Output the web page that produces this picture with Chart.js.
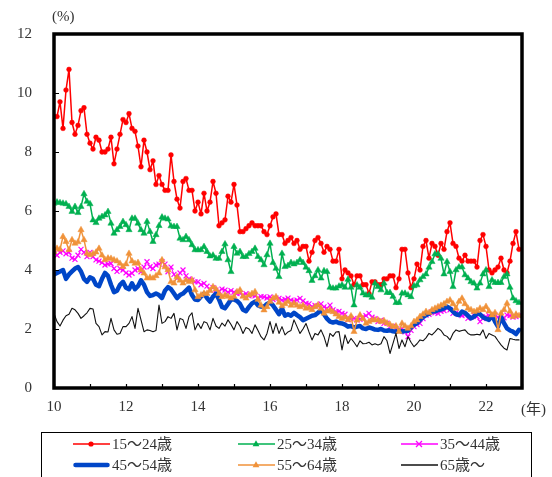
<!DOCTYPE html>
<html>
<head>
<meta charset="utf-8">
<script src="https://cdn.jsdelivr.net/npm/chart.js@4/dist/chart.umd.min.js"></script>
<style>
  html, body { margin: 0; padding: 0; background: #fff; }
  #wrap { position: relative; width: 552px; height: 477px; overflow: hidden; }
  .txt { position: absolute; font-family: "Liberation Serif", "Noto Sans CJK JP", serif; font-size: 15px; color: #333; white-space: nowrap; line-height: 16px; }
  #legend { position: absolute; left: 41px; top: 432px; width: 491px; height: 46px; border: 1.5px solid #000; box-sizing: border-box; }
  .item { position: absolute; width: 140px; height: 16px; }
  .item svg { position: absolute; left: 0; top: 0; }
  .item span { position: absolute; left: 39px; top: 0; display: block; height: 16px; line-height: 16px; font-family: "Liberation Serif", "Noto Sans CJK JP", serif; font-size: 15px; color: #333; white-space: nowrap; }
</style>
</head>
<body>
<div id="wrap">
  <canvas id="c" width="552" height="477"></canvas>
  <div class="txt" style="left:52px; top:8px;">(%)</div>
  <div class="txt" style="left:521px; top:401px;">(年)</div>
  <div id="legend"></div>
</div>
<script>
// ---- data (monthly, Jan 2010 - Dec 2022) ----
const seriesNames = ['15～24歳', '25～34歳', '35～44歳', '45～54歳', '55～64歳', '65歳～'];
const yearTickLabels = ['10', '12', '14', '16', '18', '20', '22'];

const age15_24 = [
  9.2,9.2,9.7,8.8,10.1,10.8,9.0,8.6,8.9,9.4,9.5,8.6,
  8.3,8.1,8.5,8.4,8.0,8.0,8.1,8.5,7.6,8.1,8.6,9.1,
  9.0,9.3,8.8,8.7,8.2,7.5,8.4,8.0,7.4,7.7,6.9,7.2,
  6.9,6.7,6.7,7.9,7.0,6.4,6.1,7.0,7.1,6.7,6.7,6.0,
  6.3,5.9,6.6,6.0,6.3,7.0,6.6,5.5,5.6,5.7,6.5,6.3,
  6.9,6.2,5.3,5.3,5.4,5.5,5.6,5.5,5.5,5.5,5.3,5.2,
  5.5,5.8,5.9,5.2,5.2,4.9,5.0,5.1,4.9,5.0,4.7,4.8,
  4.8,4.3,4.6,5.0,5.1,4.9,4.6,4.8,4.7,4.3,4.3,4.7,
  3.7,4.0,3.9,3.8,3.5,3.8,3.8,3.5,3.5,3.2,3.6,3.6,
  3.5,3.5,3.7,3.7,3.8,3.8,3.4,3.7,4.7,4.7,3.9,3.4,
  3.7,4.2,4.0,4.8,5.0,4.4,4.9,4.8,4.5,4.9,4.7,5.3,
  5.6,4.9,4.8,4.4,4.3,4.5,4.3,4.3,4.3,4.1,5.0,5.2,
  4.8,4.0,3.9,4.0,4.1,4.4,4.0,3.9,4.3,4.9,5.3,4.7
];
const age25_34 = [
  6.26,6.3,6.28,6.26,6.24,6.15,5.98,6.15,5.94,6.15,6.58,6.32,
  6.24,5.69,5.6,5.75,5.81,5.86,5.98,5.58,5.24,5.36,5.47,5.64,
  5.53,5.36,5.75,5.75,5.58,5.36,5.24,5.64,5.3,4.96,5.19,5.5,
  5.79,5.75,5.72,5.49,5.47,5.47,5.07,5.02,5.13,5.02,4.85,4.68,
  4.68,4.68,4.79,4.62,4.47,4.5,4.39,4.39,4.62,4.88,4.34,3.94,
  4.79,4.56,4.62,4.45,4.45,4.55,4.62,4.73,4.45,4.34,4.17,4.51,
  4.9,4.25,4.05,3.77,4.56,4.11,4.15,4.25,4.2,4.25,4.34,4.25,
  4.09,3.97,3.64,3.8,4.0,3.72,3.97,3.94,3.41,3.38,3.38,3.45,
  3.49,3.41,3.68,3.41,2.81,3.49,3.41,3.21,3.15,3.15,3.07,3.55,
  3.43,3.32,3.55,3.23,3.23,3.1,2.89,2.89,3.21,3.21,3.15,3.09,
  3.46,3.49,3.66,3.77,3.86,4.09,4.28,4.54,4.54,4.39,3.86,4.28,
  3.94,3.43,4.0,4.1,4.1,3.83,3.72,3.6,3.55,3.38,3.55,3.86,
  4.0,3.43,3.66,3.57,3.57,3.57,3.77,3.86,3.41,3.04,2.95,2.89
];
const age35_44 = [
  4.7,4.5,4.6,4.65,4.55,4.6,4.4,4.36,4.5,4.7,4.6,4.45,
  4.6,4.45,4.34,4.3,4.25,4.17,4.2,4.22,4.05,3.95,4.05,4.0,
  3.9,3.83,3.89,4.0,4.05,3.94,4.1,4.28,4.11,4.05,4.17,4.2,
  4.28,4.2,3.94,4.1,3.85,3.72,3.9,4.0,3.8,3.7,3.66,3.6,
  3.6,3.5,3.55,3.45,3.32,3.4,3.32,3.28,3.35,3.32,3.25,3.3,
  3.25,3.2,3.21,3.15,3.2,3.12,3.15,3.12,3.05,3.1,3.09,3.05,
  3.09,3.0,3.05,3.04,2.98,3.0,3.05,2.98,2.95,2.98,3.04,2.95,
  2.87,2.85,2.76,2.8,2.78,2.85,2.75,2.7,2.81,2.65,2.59,2.6,
  2.53,2.5,2.31,2.35,2.36,2.3,2.33,2.4,2.45,2.53,2.4,2.35,
  2.25,2.3,2.19,2.2,2.08,2.1,2.0,1.97,2.0,1.9,1.74,1.95,
  2.08,2.15,2.19,2.35,2.47,2.5,2.59,2.55,2.53,2.6,2.62,2.7,
  2.65,2.53,2.55,2.5,2.45,2.48,2.36,2.4,2.47,2.42,2.25,2.35,
  2.42,2.45,2.4,2.47,2.4,2.31,2.38,2.47,2.45,2.4,2.42,2.45
];
const age45_54 = [
  3.85,3.9,3.95,4.0,3.7,3.85,3.95,4.05,4.1,3.95,3.7,3.6,
  3.75,3.7,3.5,3.45,3.7,3.9,3.8,3.5,3.25,3.3,3.5,3.6,
  3.4,3.35,3.55,3.35,3.45,3.65,3.5,3.25,3.12,3.15,3.2,3.15,
  3.05,3.3,3.42,3.35,3.2,3.05,3.15,3.2,3.3,3.4,3.15,3.0,
  2.98,3.1,3.2,3.05,2.93,3.1,3.2,3.0,2.75,2.7,2.85,3.0,
  3.0,2.95,2.85,2.65,2.6,2.75,2.87,2.93,2.8,2.76,2.75,2.85,
  2.9,2.8,2.65,2.5,2.7,2.45,2.5,2.45,2.55,2.47,2.4,2.3,
  2.35,2.4,2.45,2.47,2.55,2.64,2.5,2.35,2.25,2.22,2.25,2.2,
  2.19,2.15,2.08,2.1,2.05,2.08,2.1,2.02,2.0,2.05,2.02,1.98,
  1.97,2.0,1.95,1.94,1.96,1.92,1.91,1.95,1.91,1.93,1.94,2.05,
  2.14,2.2,2.31,2.4,2.47,2.52,2.59,2.6,2.64,2.66,2.7,2.76,
  2.7,2.59,2.5,2.47,2.59,2.55,2.45,2.36,2.42,2.53,2.5,2.4,
  2.35,2.31,2.47,2.25,2.08,2.42,2.2,2.02,1.95,1.91,1.83,1.97
];
const age55_64 = [
  4.62,4.73,4.7,5.13,4.96,4.68,5.02,4.9,4.95,5.36,5.02,4.56,
  4.51,4.55,4.6,4.73,4.5,4.34,4.4,4.39,4.34,4.3,4.22,4.11,
  4.2,4.56,4.3,4.22,4.25,4.0,3.89,3.72,3.75,3.72,3.8,3.89,
  4.34,4.1,4.0,3.6,3.55,3.77,3.65,3.55,3.66,3.6,3.66,3.32,
  3.09,3.15,3.21,3.2,3.3,3.43,3.35,3.2,3.09,3.15,3.1,3.04,
  3.1,3.26,3.32,3.1,3.04,3.15,3.2,3.26,3.0,2.8,2.64,2.75,
  2.93,3.04,3.09,2.9,2.78,2.85,2.93,2.8,2.87,2.8,2.75,2.8,
  2.7,2.72,2.65,2.75,2.81,2.7,2.53,2.6,2.64,2.58,2.5,2.42,
  2.35,2.4,2.31,2.44,1.91,2.3,2.47,2.35,2.19,2.25,2.3,2.31,
  2.3,2.25,2.28,2.2,2.15,2.08,2.1,1.91,2.19,2.1,2.02,2.1,
  2.25,2.3,2.42,2.5,2.59,2.55,2.65,2.7,2.75,2.8,2.85,2.93,
  2.98,2.85,2.7,2.93,3.04,2.85,2.7,2.65,2.59,2.62,2.7,2.65,
  2.76,2.6,2.47,2.55,1.97,2.53,2.65,2.87,2.6,2.42,2.5,2.45
];
const age65plus = [
  2.53,2.25,2.1,2.3,2.45,2.5,2.7,2.65,2.53,2.36,2.45,2.55,
  2.7,2.68,2.19,2.08,1.8,1.91,1.9,2.36,1.97,1.82,1.85,2.08,
  2.08,2.19,2.42,2.02,2.7,2.31,1.91,1.97,1.95,1.91,1.95,2.81,
  2.19,2.25,2.42,2.36,2.53,1.97,2.36,2.31,2.02,2.42,2.55,1.97,
  2.19,2.02,2.25,2.2,1.97,2.36,2.1,2.02,2.2,2.1,2.31,2.15,
  1.97,2.25,2.1,1.85,2.05,2.0,1.85,2.14,1.95,1.74,1.63,1.85,
  2.25,1.85,2.19,1.85,2.08,1.8,1.9,1.95,2.31,2.08,1.85,2.0,
  2.19,1.9,1.63,1.85,1.8,1.97,1.74,1.4,1.85,1.75,1.9,1.91,
  1.29,1.8,1.51,1.68,1.55,1.4,1.6,1.5,1.51,1.55,1.46,1.5,
  1.46,1.5,1.74,1.6,1.17,1.51,1.85,1.34,1.63,1.4,1.74,1.55,
  1.4,1.5,1.63,1.6,1.7,1.85,1.8,1.9,2.02,1.95,1.8,1.75,
  1.63,1.85,1.97,1.92,1.95,1.97,1.85,1.8,1.8,1.82,1.8,1.97,
  1.68,1.85,1.8,1.75,1.6,1.46,1.35,1.29,1.68,1.65,1.63,1.63
];

// ---- styles ----
const styles = [
  { color: '#FF0000', width: 1.5, point: 'circle',   radius: 2.4, pbw: 0.5 },
  { color: '#00B050', width: 1.5, point: 'triangle', radius: 3.6, pbw: 0.5 },
  { color: '#FF00FF', width: 1.0, point: 'crossRot', radius: 3.5, pbw: 1.2 },
  { color: '#0046C8', width: 4.5, point: 'circle',   radius: 0,   pbw: 0 },
  { color: '#F0923A', width: 1.5, point: 'triangle', radius: 3.6, pbw: 0.5 },
  { color: '#111111', width: 1.1, point: 'circle',   radius: 0,   pbw: 0 }
];
const seriesValues = [age15_24, age25_34, age35_44, age45_54, age55_64, age65plus];

const datasets = seriesValues.map((vals, k) => ({
  label: seriesNames[k],
  data: vals.map((v, i) => ({ x: i, y: v })),
  borderColor: styles[k].color,
  backgroundColor: styles[k].color,
  borderWidth: styles[k].width,
  pointStyle: styles[k].point,
  pointRadius: styles[k].radius,
  pointBorderWidth: styles[k].pbw,
  pointBorderColor: styles[k].color,
  pointBackgroundColor: styles[k].color,
  pointHoverRadius: styles[k].radius,
  tension: 0,
  borderJoinStyle: 'round',
  borderCapStyle: 'round',
  fill: false,
  order: 6 - k
}));

const frameAndTicks = {
  id: 'frameAndTicks',
  afterDatasetsDraw(chart) {
    const { ctx, chartArea: a, scales } = chart;
    ctx.save();
    ctx.strokeStyle = '#000';
    ctx.lineWidth = 1.2;
    ctx.beginPath();
    scales.x.ticks.forEach(t => {
      const px = Math.round(scales.x.getPixelForValue(t.value)) + 0.5;
      ctx.moveTo(px, a.bottom);
      ctx.lineTo(px, a.bottom - 4);
    });
    scales.y.ticks.forEach(t => {
      const py = Math.round(scales.y.getPixelForValue(t.value)) + 0.5;
      ctx.moveTo(a.left, py);
      ctx.lineTo(a.left + 5, py);
    });
    ctx.stroke();
    ctx.lineWidth = 3.5;
    ctx.strokeRect(a.left, a.top, a.right - a.left, a.bottom - a.top);
    ctx.restore();
  }
};

const tickFont = { family: '"Liberation Serif", "Noto Sans CJK JP", serif', size: 15 };

new Chart(document.getElementById('c'), {
  type: 'line',
  data: { datasets },
  options: {
    responsive: false,
    animation: false,
    events: [],
    layout: { padding: { top: 34, right: 30, left: 0, bottom: 0 } },
    plugins: { legend: { display: false }, tooltip: { enabled: false } },
    scales: {
      x: {
        type: 'linear', min: 0, max: 156,
        grid: { display: false, drawTicks: false },
        border: { display: false },
        ticks: {
          stepSize: 12, maxTicksLimit: 20, autoSkip: false, maxRotation: 0, minRotation: 0,
          padding: 10, color: '#333', font: tickFont,
          callback: (v) => (v % 24 === 0 && v / 24 < yearTickLabels.length) ? yearTickLabels[v / 24] : ''
        },
        afterFit: (s) => { s.height = 89; }
      },
      y: {
        min: 0, max: 12,
        grid: { display: false, drawTicks: false },
        border: { display: false },
        ticks: { stepSize: 2, maxTicksLimit: 20, padding: 22, color: '#333', font: tickFont },
        afterFit: (s) => { s.width = 54; }
      }
    }
  },
  plugins: [frameAndTicks]
});

// ---- HTML legend (3 columns x 2 rows) ----
const legendPos = [
  { left: 31, top: 3 }, { left: 196, top: 3 }, { left: 359, top: 3 },
  { left: 31, top: 24 }, { left: 196, top: 24 }, { left: 359, top: 24 }
];
const legend = document.getElementById('legend');
seriesNames.forEach((name, k) => {
  const s = styles[k];
  let marker = '';
  if (s.point === 'circle' && s.radius > 0) {
    marker = `<circle cx="18" cy="8" r="2.6" fill="${s.color}"/>`;
  } else if (s.point === 'triangle') {
    marker = `<polygon points="18,4.2 21.4,10.2 14.6,10.2" fill="${s.color}"/>`;
  } else if (s.point === 'crossRot') {
    marker = `<path d="M15,5 L21,11 M21,5 L15,11" stroke="${s.color}" stroke-width="1.3"/>`;
  }
  const lw = s.width > 3 ? 4.5 : 1.4;
  const cap = s.width > 3 ? 'round' : 'butt';
  const x1 = s.width > 3 ? 2.5 : 0, x2 = s.width > 3 ? 34.5 : 37;
  const div = document.createElement('div');
  div.className = 'item';
  div.style.left = legendPos[k].left + 'px';
  div.style.top = legendPos[k].top + 'px';
  div.innerHTML = `<svg width="37" height="16" viewBox="0 0 37 16"><line x1="${x1}" y1="8" x2="${x2}" y2="8" stroke="${s.color}" stroke-width="${lw}" stroke-linecap="${cap}"/>${marker}</svg><span>${name}</span>`;
  legend.appendChild(div);
});
</script>
</body>
</html>
